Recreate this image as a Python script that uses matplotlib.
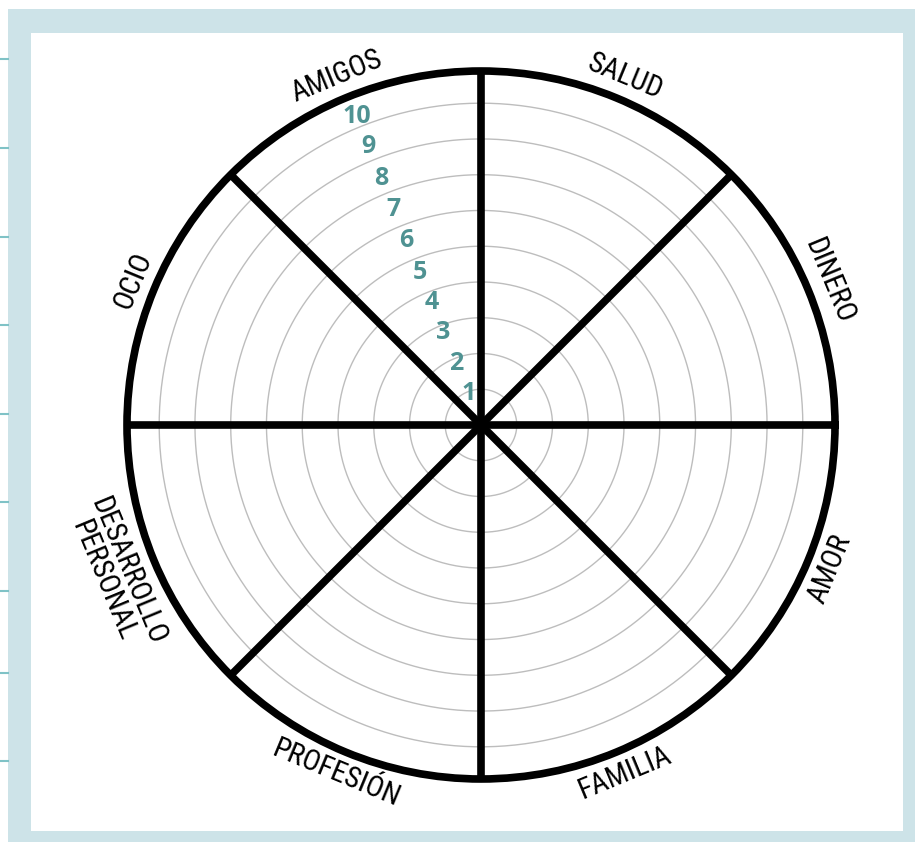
import numpy as np
import matplotlib
matplotlib.use("Agg")
import matplotlib.pyplot as plt
from matplotlib.patches import Rectangle

# ---- data ----
categories = ["SALUD", "AMIGOS", "OCIO", "DESARROLLO\nPERSONAL",
              "PROFESIÓN", "FAMILIA", "AMOR", "DINERO"]
category_angles = [67.5, 112.5, 157.5, 202.5, 247.5, 292.5, 337.5, 22.5]
spoke_angles = [0, 45, 90, 135, 180, 225, 270, 315]
ring_values = [1, 2, 3, 4, 5, 6, 7, 8, 9]
scale_labels = ["1", "2", "3", "4", "5", "6", "7", "8", "9", "10"]
scale_label_radius = [0.95, 1.85, 2.8, 3.7, 4.6, 5.55, 6.5, 7.45, 8.4, 9.3]
scale_label_angle = 112
outer_radius = 9.9

W, H = 915, 842
fig = plt.figure(figsize=(W / 100, H / 100), dpi=100)
fig.patch.set_facecolor("white")

def px_rect(x0, y0, x1, y1, color):
    fig.patches.append(Rectangle((x0 / W, 1 - y1 / H), (x1 - x0) / W, (y1 - y0) / H,
                                 transform=fig.transFigure, facecolor=color,
                                 edgecolor="none", zorder=-10))

blue = "#cde3e8"
px_rect(8, 9, 915, 842, blue)
px_rect(31, 33, 903, 831, "white")

# left tick marks
for ty in [59, 148, 237, 325, 414, 502, 591, 673, 761]:
    fig.add_artist(plt.Line2D([0, 8 / W], [1 - ty / H, 1 - ty / H],
                              transform=fig.transFigure, color="#7fc2c6", lw=1.5,
                              zorder=-5))

# polar axes
cx, cy, R = 481, 425, 354
ax = fig.add_axes([(cx - R) / W, (H - cy - R) / H, 2 * R / W, 2 * R / H],
                  projection="polar")
ax.set_zorder(5)
ax.set_facecolor("none")
ax.set_ylim(0, outer_radius)
ax.set_xticks([])
ax.set_yticks([])
ax.grid(False)
ax.spines["polar"].set_linewidth(5.5)
ax.spines["polar"].set_color("black")

th = np.linspace(0, 2 * np.pi, 400)
for r in ring_values:
    ax.plot(th, np.full_like(th, r), color="#bdbdbd", lw=1.0, zorder=1)

for a in spoke_angles:
    ax.plot([np.deg2rad(a), np.deg2rad(a)], [0, outer_radius], color="black",
            lw=5.5, solid_capstyle="round", zorder=3)

for lab, r in zip(scale_labels, scale_label_radius):
    ax.text(np.deg2rad(scale_label_angle), r, lab, color="#4f9292",
            fontsize=18, fontweight="bold", family=["Open Sans", "DejaVu Sans"],
            ha="center", va="center", zorder=4)

narrow = ["Roboto Condensed", "Archivo Narrow", "PT Sans Narrow",
          "Pragati Narrow", "Roboto", "DejaVu Sans"]
for cat, a in zip(categories, category_angles):
    a_n = (a + 180) % 360 - 180
    if 0 <= a_n <= 180:
        rot = a_n - 90
    else:
        rot = a_n + 90
    r_px = 395 if "\n" in cat else 377
    ax.text(np.deg2rad(a), r_px / R * outer_radius, cat, rotation=rot,
            rotation_mode="anchor", ha="center", va="center",
            multialignment="center", fontsize=21,
            family=narrow, color="black", linespacing=0.92,
            clip_on=False, zorder=5)

fig.savefig("out.png", dpi=100, facecolor="white")
